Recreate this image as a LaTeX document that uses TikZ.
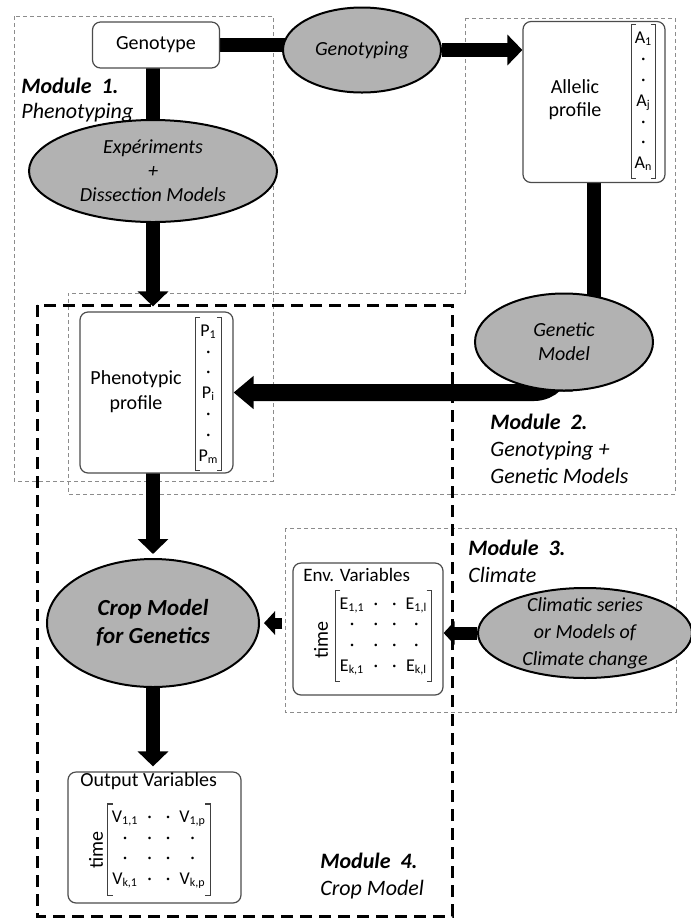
\documentclass[tikz,border=0pt]{standalone}
\usepackage{fontspec}
\setmainfont{Carlito}
\usetikzlibrary{arrows.meta,shapes.geometric,backgrounds}

\tikzset{
  modbox/.style={draw=black!45,line width=0.5pt,dash pattern=on 2pt off 1.5pt},
  cropframe/.style={draw,line width=1.5pt,dash pattern=on 6pt off 3.5pt},
  profbox/.style={draw=black!70,line width=0.6pt,fill=white,rounded corners=4pt},
  process/.style={ellipse,draw,line width=1pt,fill=black!30,inner sep=0pt,align=center,
    font=\itshape\fontsize{10}{12}\selectfont},
  vecnode/.style={inner xsep=1.5pt,inner ysep=0pt,align=center,font=\fontsize{9}{10.4}\selectfont},
  matnode/.style={inner xsep=2pt,inner ysep=2pt,font=\fontsize{9}{10.3}\selectfont},
  modlabel/.style={anchor=west,inner sep=0pt,align=left,font=\itshape\fontsize{11}{13.5}\selectfont},
  fatbar/.style={line width=7pt},
  fatarrow/.style={fatbar,-{Triangle[width=15pt,length=7.5pt]}},
  slimarrow/.style={line width=5.5pt,-{Triangle[width=11.5pt,length=5.5pt]}},
  brk/.style={draw=black!75,line width=0.6pt}
}
\newcommand{\vd}{\textperiodcentered}
\newcommand{\matbrackets}[1]{%
  \draw[brk] ([xshift=2.5pt]#1.north west) -- (#1.north west) -- (#1.south west) -- ([xshift=2.5pt]#1.south west);
  \draw[brk] ([xshift=-2.5pt]#1.north east) -- (#1.north east) -- (#1.south east) -- ([xshift=-2.5pt]#1.south east);}

\begin{document}
\begin{tikzpicture}[x=0.5pt,y=-0.5pt]
  \useasboundingbox (0,0) rectangle (691,918);
  % top row
  \node[profbox,minimum width=63.5pt,minimum height=23pt,font=\fontsize{10}{12}\selectfont] (geno) at (156,45) {Genotype};
  \node[process,minimum width=79pt,minimum height=42.5pt] (gtyp) at (362,50) {Genotyping};
  \node[profbox,minimum width=71pt,minimum height=80.5pt] (allel) at (594,102) {};
  \node[align=center,font=\fontsize{10}{11.5}\selectfont] (allelTxt) at (575,100) {Allelic\\profile};
  \node[vecnode,minimum height=76.5pt] (avec) at (643.5,101.5)
    {A\textsubscript{1}\\\vd\\\vd\\A\textsubscript{j}\\\vd\\\vd\\A\textsubscript{n}};
  \matbrackets{avec}
  % module 1 and 2
  \node[process,minimum width=124pt,minimum height=51pt] (expt) at (153,171) {Expériments\\+\\Dissection Models};
  \node[profbox,minimum width=76.5pt,minimum height=80.5pt] (pheno) at (156.5,392.5) {};
  \node[align=center,font=\fontsize{10}{12.5}\selectfont] (phenoTxt) at (136,392) {Phenotypic\\profile};
  \node[vecnode,minimum height=76pt] (pvec) at (208.5,394)
    {P\textsubscript{1}\\\vd\\\vd\\P\textsubscript{i}\\\vd\\\vd\\P\textsubscript{m}};
  \matbrackets{pvec}
  \node[process,minimum width=89pt,minimum height=48.5pt] (gen) at (564,342) {Genetic\\Model};
  % crop model
  \node[process,minimum width=106pt,minimum height=64pt,font=\bfseries\itshape\fontsize{11.5}{14}\selectfont] (crop) at (153,623) {Crop Model\\for Genetics};
  % climate
  \node[profbox,minimum width=75pt,minimum height=66pt] (env) at (368,629) {};
  \node[anchor=west,inner sep=0pt,font=\fontsize{9.5}{11}\selectfont] (envTtl) at (303,575) {Env. Variables};
  \node[rotate=90,inner sep=0pt,font=\fontsize{10}{12}\selectfont] (envTime) at (321,640) {time};
  \node[matnode] (evec) at (383.5,636) {%
    \begin{tabular}{@{}c@{\hspace{4.5pt}}c@{\hspace{7pt}}c@{\hspace{4.5pt}}c@{}}
      E\textsubscript{1,1} & \vd & \vd & E\textsubscript{1,l}\\
      \vd & \vd & \vd & \vd\\
      \vd & \vd & \vd & \vd\\
      E\textsubscript{k,1} & \vd & \vd & E\textsubscript{k,l}
    \end{tabular}};
  \matbrackets{evec}
  \node[process,minimum width=107pt,minimum height=45pt,inner ysep=-4pt,font=\itshape\fontsize{10}{13.5}\selectfont] (clim) at (585,633) {Climatic series\\or Models of\\Climate change};
  % output
  \node[profbox,minimum width=86.5pt,minimum height=65.5pt] (out) at (154.5,837.5) {};
  \node[anchor=west,inner sep=0pt,font=\fontsize{10}{12}\selectfont] (outTtl) at (80,781) {Output Variables};
  \node[rotate=90,inner sep=0pt,font=\fontsize{10}{12}\selectfont] (outTime) at (96,850) {time};
  \node[matnode] (ovec) at (159,849.5) {%
    \begin{tabular}{@{}c@{\hspace{4.5pt}}c@{\hspace{7pt}}c@{\hspace{4.5pt}}c@{}}
      V\textsubscript{1,1} & \vd & \vd & V\textsubscript{1,p}\\
      \vd & \vd & \vd & \vd\\
      \vd & \vd & \vd & \vd\\
      V\textsubscript{k,1} & \vd & \vd & V\textsubscript{k,p}
    \end{tabular}};
  \matbrackets{ovec}
  % module labels
  \node[modlabel,font=\itshape\fontsize{11}{12.5}\selectfont] (m1) at (21,100) {\textbf{Module~ 1.}\\Phenotyping};
  \node[modlabel] (m2) at (490,449) {\textbf{Module~ 2.}\\Genotyping +\\Genetic Models};
  \node[modlabel] (m3) at (468,561) {\textbf{Module~ 3.}\\Climate};
  \node[modlabel] (m4) at (320,876.5) {\textbf{Module~ 4.}\\Crop Model};

  \begin{scope}[on background layer]
    \draw[modbox] (14,16) rectangle (273,481);
    \draw[modbox] (465,18) -- (675,18) -- (675,494) -- (68,494) -- (68,293) -- (465,293) -- cycle;
    \draw[modbox] (285,528) rectangle (676,712);
    \draw[cropframe] (37,305) rectangle (452,916);
    % connectors
    \draw[fatbar] (geno) -- (geno -| gtyp);
    \draw[fatarrow] (gtyp) -- (gtyp -| allel.west);
    \draw[fatbar] (expt) -- (expt |- geno);
    \draw[fatarrow,shorten >=2.5pt] (expt) -- (expt |- pheno.north);
    \draw[fatbar] (allel) -- (allel |- gen);
    \draw[fatarrow,line width=8.5pt,-{Triangle[width=16pt,length=10pt]},rounded corners=15pt] (gen) |- (pheno.east);
    \draw[fatarrow,shorten >=2pt] (crop |- pheno) -- (crop.north);
    \draw[fatarrow,shorten >=2.5pt] (crop) -- (crop |- out.north);
    \draw[slimarrow,shorten <=5pt,shorten >=2pt] (env.west |- crop) -- (crop.east);
    \draw[slimarrow,line width=6.5pt] (clim) -- (clim -| env.east);
  \end{scope}
\end{tikzpicture}
\end{document}
